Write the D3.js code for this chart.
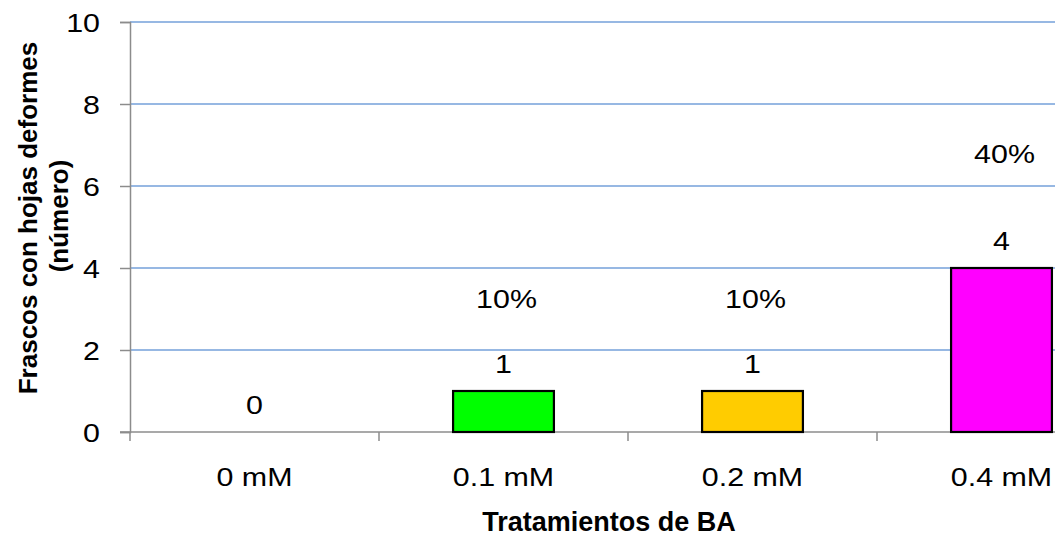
<!DOCTYPE html>
<html>
<head>
<meta charset="utf-8">
<script src="https://cdn.jsdelivr.net/npm/d3@7"></script>
<style>
  html, body { margin: 0; padding: 0; background: #fff; overflow: hidden; }
  svg { display: block; font-family: "Liberation Sans", Arial, sans-serif; }
</style>
</head>
<body>
<svg id="chart" width="1055" height="535"></svg>
<script>
// Treatments (BA concentration) and flasks with deformed leaves
const categories = ["0 mM", "0.1 mM", "0.2 mM", "0.4 mM"];
const counts = [0, 1, 1, 4];
const percents = ["", "10%", "10%", "40%"];
const barColors = ["#ffffff", "#00ff00", "#ffcc00", "#ff00ff"];
const yTicks = [0, 2, 4, 6, 8, 10];

const svg = d3.select("#chart");
const W = 1055, H = 535;
const plotLeft = 130, plotTop = 22, plotBottom = 432, plotRight = 1126;

const x = d3.scaleBand().domain(categories).range([plotLeft, plotRight]).paddingInner(0).paddingOuter(0);
const y = d3.scaleLinear().domain([0, 10]).range([plotBottom, plotTop]);
const barW = x.bandwidth() * 0.405;

const fs = 26;      // label font size
const sx = 1.17;    // horizontal widening of the regular labels

// text helper: anchored at (px, py), widened horizontally
function label(g, px, py, txt, anchor) {
  return g.append("text")
    .attr("transform", `translate(${px},${py}) scale(${sx},1)`)
    .attr("text-anchor", anchor || "middle")
    .attr("font-size", fs)
    .attr("fill", "#000")
    .text(txt);
}

// horizontal gridlines
svg.append("g")
  .selectAll("line")
  .data(yTicks.filter(t => t > 0))
  .join("line")
  .attr("x1", plotLeft).attr("x2", W)
  .attr("y1", d => y(d)).attr("y2", d => y(d))
  .attr("stroke", "#75a0da").attr("stroke-width", 1.3);

// y axis
const yAxis = svg.append("g")
  .attr("transform", `translate(${plotLeft},0)`)
  .call(d3.axisLeft(y).tickValues(yTicks).tickSize(10).tickFormat(""));
yAxis.select(".domain").attr("stroke", "#8c8c8c").attr("stroke-width", 1.5);
yAxis.selectAll(".tick line").attr("stroke", "#8c8c8c").attr("stroke-width", 1.5);
const yLab = svg.append("g");
yTicks.forEach(t => label(yLab, 100, y(t) + 9.5, d3.format("d")(t), "end"));

// x axis line and category separators
const xg = svg.append("g");
xg.append("line").attr("x1", plotLeft - 10).attr("x2", W)
  .attr("y1", plotBottom).attr("y2", plotBottom)
  .attr("stroke", "#8c8c8c").attr("stroke-width", 1.5);
xg.selectAll(".sep")
  .data(categories)
  .join("line")
  .attr("class", "sep")
  .attr("x1", d => x(d)).attr("x2", d => x(d))
  .attr("y1", plotBottom).attr("y2", plotBottom + 9)
  .attr("stroke", "#8c8c8c").attr("stroke-width", 1.5);
categories.forEach(c => label(xg, x(c) + x.bandwidth() / 2, 486, c));

const rows = categories.map((c, i) => ({ c, n: counts[i], p: percents[i], col: barColors[i] }));

// bars
svg.append("g")
  .selectAll("rect")
  .data(rows.filter(d => d.n > 0))
  .join("rect")
  .attr("x", d => x(d.c) + (x.bandwidth() - barW) / 2)
  .attr("y", d => y(d.n))
  .attr("width", barW)
  .attr("height", d => y(0) - y(d.n))
  .attr("fill", d => d.col)
  .attr("stroke", "#000").attr("stroke-width", 2.2);

// count labels above each bar
const cntG = svg.append("g");
rows.forEach(d => label(cntG, x(d.c) + x.bandwidth() / 2, y(d.n) - 18, String(d.n)));

// percentage labels
const pctG = svg.append("g");
rows.filter(d => d.p).forEach(d =>
  label(pctG, x(d.c) + x.bandwidth() / 2 + 3, y(d.n) - (d.n >= 4 ? 105 : 83), d.p));

// axis titles
svg.append("text")
  .attr("transform", "translate(37,218) rotate(-90)")
  .attr("text-anchor", "middle")
  .attr("font-size", 26).attr("font-weight", "bold")
  .text("Frascos con hojas deformes");
svg.append("text")
  .attr("transform", "translate(68,216) rotate(-90)")
  .attr("text-anchor", "middle")
  .attr("font-size", 26).attr("font-weight", "bold")
  .text("(número)");
svg.append("text")
  .attr("x", 609).attr("y", 531)
  .attr("text-anchor", "middle")
  .attr("font-size", 27).attr("font-weight", "bold")
  .text("Tratamientos de BA");
</script>
</body>
</html>
